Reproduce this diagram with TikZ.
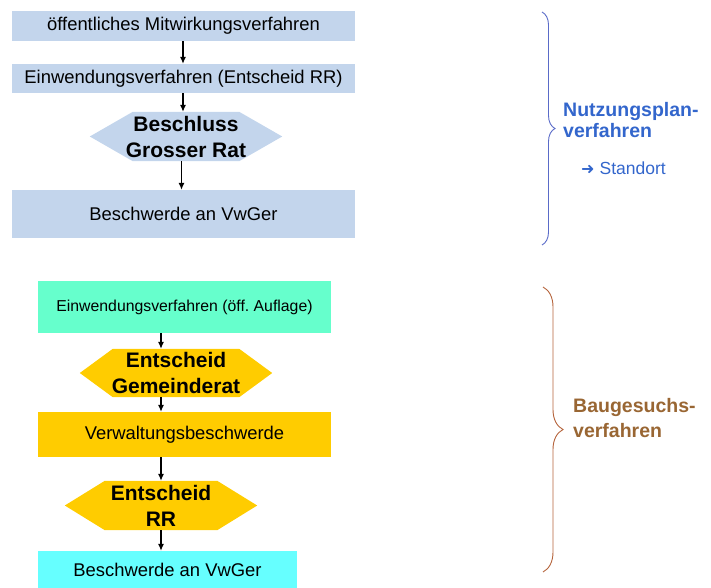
\documentclass[tikz,border=0pt]{standalone}
\usepackage{fontspec}
\setmainfont{Liberation Sans}
\newfontfamily\dejavu{DejaVu Sans}
\usetikzlibrary{calc,backgrounds,arrows.meta,decorations.pathreplacing}
\definecolor{lblue}{HTML}{C3D5EC}
\definecolor{mint}{HTML}{66FFCC}
\definecolor{gold}{HTML}{FFCC00}
\definecolor{lcyan}{HTML}{66FFFF}
\definecolor{tblue}{HTML}{3366CC}
\definecolor{tbrown}{HTML}{996633}
\definecolor{bblue}{HTML}{5A6BC8}
\definecolor{bbrown}{HTML}{B5643C}
\frenchspacing
\begin{document}
\begin{tikzpicture}[x=1pt,y=-1pt,
  box/.style={rectangle, inner sep=0pt, anchor=center, font=\fontsize{18.4}{22}\selectfont},
  hexnode/.style={rectangle, inner sep=0pt, anchor=center, align=center, font=\bfseries\fontsize{21}{26}\selectfont},
  arr/.style={-{Latex[length=7pt,width=6pt]}, line width=1.1pt},
  bracedeco/.style={decorate, line width=0.9pt},
  sidelabel/.style={anchor=base west, inner sep=0pt, font=\bfseries\fontsize{19.5}{21}\selectfont}]
\useasboundingbox (0,0) rectangle (711,588);

% upper flow
\node[box, fill=lblue, minimum width=343pt, minimum height=30pt] (b1) at (183.5,26) {öffentliches Mitwirkungsverfahren};
\node[box, fill=lblue, minimum width=343pt, minimum height=29pt] (b2) at (183.5,78.5) {Einwendungsverfahren (Entscheid RR)};
\node[hexnode, minimum width=192pt, minimum height=49pt] (h1) at (186,136.5) {Beschluss\\Grosser Rat};
\node[box, fill=lblue, minimum width=343pt, minimum height=48pt] (b3) at (183.5,214) {Beschwerde an VwGer};

% lower flow
\node[box, fill=mint, minimum width=293pt, minimum height=52pt, font=\fontsize{15.8}{19}\selectfont] (b5) at (184.5,307) {Einwendungsverfahren (öff. Auflage)};
\node[hexnode, minimum width=192pt, minimum height=48pt] (h2) at (176,373) {Entscheid\\Gemeinderat};
\node[box, fill=gold, minimum width=293pt, minimum height=45pt] (b6) at (184.5,434.5) {Verwaltungsbeschwerde};
\node[hexnode, minimum width=192pt, minimum height=49pt] (h3) at (161,505.5) {Entscheid\\RR};
\node[box, fill=lcyan, minimum width=259pt, minimum height=38pt] (b7) at (167.5,570) {Beschwerde an VwGer};

\begin{scope}[on background layer]
\fill[lblue] (h1.west) -- ([xshift=43pt]h1.north west) -- ([xshift=-43pt]h1.north east) -- (h1.east) -- ([xshift=-43pt]h1.south east) -- ([xshift=43pt]h1.south west) -- cycle;
\fill[gold] (h2.west) -- ([xshift=33pt]h2.north west) -- ([xshift=-33pt]h2.north east) -- (h2.east) -- ([xshift=-33pt]h2.south east) -- ([xshift=33pt]h2.south west) -- cycle;
\fill[gold] (h3.west) -- ([xshift=40pt]h3.north west) -- ([xshift=-40pt]h3.north east) -- (h3.east) -- ([xshift=-40pt]h3.south east) -- ([xshift=40pt]h3.south west) -- cycle;
\end{scope}

% arrow columns
\coordinate (xa) at (183,0);
\coordinate (xb) at (181.5,0);
\coordinate (xc) at (161,0);
\draw[arr] (b1.south -| xa) -- (b2.north -| xa);
\draw[arr] (b2.south -| xa) -- (h1.north -| xa);
\draw[arr] (h1.south -| xb) -- (b3.north -| xb);
\draw[arr] (b5.south -| xc) -- (h2.north -| xc);
\draw[arr] (h2.south -| xc) -- (b6.north -| xc);
\draw[arr] (b6.south -| xc) -- (h3.north -| xc);
\draw[arr] (h3.south -| xc) -- (b7.north -| xc);

% braces
\coordinate (bt1) at (542,12);
\coordinate (bb1) at (542,245);
\coordinate (bt2) at (543,287);
\coordinate (bb2) at (543,572);
\draw[bracedeco, draw=bblue, decoration={brace, amplitude=13pt}] (bt1) -- (bb1);
\draw[bracedeco, draw=bbrown, decoration={brace, amplitude=20pt}] (bt2) -- (bb2);

% side labels
\node[sidelabel, text=tblue] (n1) at (563,117) {Nutzungsplan-};
\node[sidelabel, text=tblue] (n2) at (563,138) {verfahren};
\node[anchor=base west, inner sep=0pt, text=tblue, font=\fontsize{17.5}{20}\selectfont] (n3) at (581,175) {{\dejavu\fontsize{16}{18}\selectfont ➜}\hspace{5pt}Standort};
\node[sidelabel, text=tbrown] (g1) at (573,412) {Baugesuchs-};
\node[sidelabel, text=tbrown] (g2) at (573,437) {verfahren};
\end{tikzpicture}
\end{document}
